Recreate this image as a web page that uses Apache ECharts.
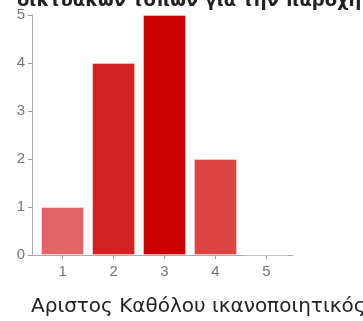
<!DOCTYPE html>
<html>
<head>
<meta charset="utf-8">
<script src="https://cdn.jsdelivr.net/npm/echarts@6/dist/echarts.min.js"></script>
<style>
  html, body { margin: 0; padding: 0; background: #fff; }
  #main { width: 363px; height: 321px; }
</style>
</head>
<body>
<div id="main"></div>
<script>
const categories = [1, 2, 3, 4, 5]
const counts = [1, 4, 5, 2, 0]
const barColors = ['#e06666', '#d42121', '#cc0000', '#dd4444', '#e06666']
const yTicks = [0, 1, 2, 3, 4, 5]
const titleText = 'δικτυακών τόπων για την παροχή'
const axisName = 'Αριστος Καθόλου ικανοποιητικός'

const chart = echarts.init(document.getElementById('main'))

const option = {
  animation: false,
  textStyle: { fontFamily: 'Arial, "Liberation Sans", sans-serif' },
  title: {
    text: titleText,
    left: 12,
    top: -13,
    textStyle: { fontSize: 18, fontWeight: 'bold', color: '#222', fontFamily: '"DejaVu Sans", sans-serif' }
  },
  grid: { left: 32, right: 70, top: 15, bottom: 66 },
  xAxis: {
    type: 'value',
    min: 0.4,
    max: 5.52,
    splitLine: { show: false },
    axisLine: { show: true, lineStyle: { color: '#aaa' } },
    axisTick: { show: true, length: 4, lineStyle: { color: '#999' }, customValues: categories },
    axisLabel: { color: '#777', fontSize: 15, margin: 9, customValues: categories }
  },
  yAxis: {
    type: 'value',
    min: yTicks[0],
    max: yTicks[yTicks.length - 1],
    interval: 1,
    splitLine: { show: false },
    axisLine: { show: true, lineStyle: { color: '#aaa' } },
    axisTick: { show: true, length: 4, lineStyle: { color: '#999' } },
    axisLabel: { color: '#777', fontSize: 15, margin: 7 }
  },
  graphic: [{
    type: 'text',
    left: 31,
    top: 297,
    style: { text: axisName, font: '20px "DejaVu Sans", sans-serif', fill: '#222' }
  }],
  series: [{
    type: 'bar',
    barWidth: 43,
    data: categories.map((c, i) => ({
      value: [c, counts[i]],
      itemStyle: { color: barColors[i], borderColor: 'rgba(255,255,255,0.35)', borderWidth: 1 }
    }))
  }]
}

chart.setOption(option)
</script>
</body>
</html>
